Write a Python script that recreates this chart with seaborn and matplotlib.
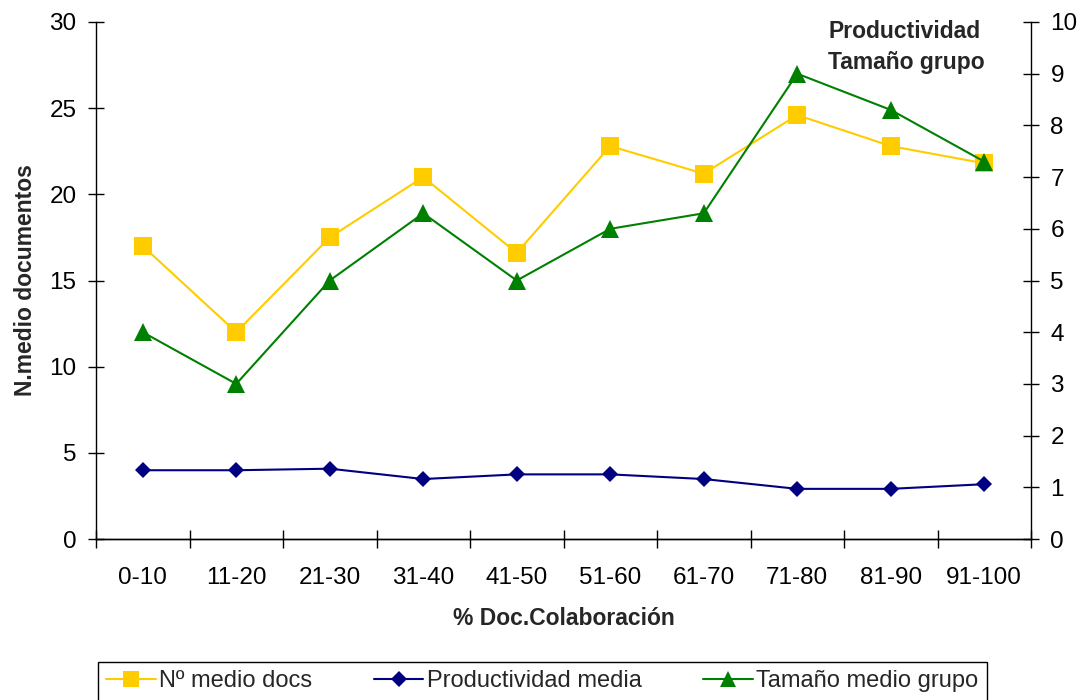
import numpy as np
import pandas as pd
import matplotlib
matplotlib.use("Agg")
import matplotlib.pyplot as plt
import seaborn as sns

# Collaboration share bins
categories = ["0-10", "11-20", "21-30", "31-40", "41-50",
              "51-60", "61-70", "71-80", "81-90", "91-100"]
# Left axis: average number of documents
n_medio_docs = [17.0, 12.0, 17.5, 21.0, 16.6, 22.8, 21.2, 24.6, 22.8, 21.8]
# Right axis: average productivity and average group size
productividad_media = [1.33, 1.33, 1.36, 1.16, 1.25, 1.25, 1.16, 0.97, 0.97, 1.06]
tamano_medio_grupo = [4.0, 3.0, 5.0, 6.3, 5.0, 6.0, 6.3, 9.0, 8.3, 7.3]

left_ticks = [0, 5, 10, 15, 20, 25, 30]
right_ticks = list(range(0, 11))

sns.set_theme(style="white")
plt.rcParams["font.family"] = ["Liberation Sans", "DejaVu Sans"]

df = pd.DataFrame({
    "pos": np.arange(len(categories)),
    "docs": n_medio_docs,
    "prod": productividad_media,
    "grupo": tamano_medio_grupo,
})

W, H = 1079, 700
fig = plt.figure(figsize=(W / 100, H / 100), dpi=100)
ax = fig.add_axes([96 / W, 1 - 539 / H, (1031 - 96) / W, (539 - 22) / H])
ax2 = ax.twinx()

yellow, navy, green = "#FFCC00", "#000080", "#008000"

sns.lineplot(data=df, x="pos", y="docs", ax=ax, color=yellow, marker="s",
             markersize=13, markeredgewidth=0, linewidth=1.5,
             label="Nº medio docs", legend=False)
sns.lineplot(data=df, x="pos", y="prod", ax=ax2, color=navy, marker="D",
             markersize=8.5, markeredgewidth=0, linewidth=1.5,
             label="Productividad media", legend=False)
sns.lineplot(data=df, x="pos", y="grupo", ax=ax2, color=green, marker="^",
             markersize=13, markeredgewidth=0, linewidth=1.5,
             label="Tamaño medio grupo", legend=False)

ax.set_xlim(-0.5, len(categories) - 0.5)
ax.set_ylim(0, 30)
ax2.set_ylim(0, 10)
ax.set_yticks(left_ticks)
ax2.set_yticks(right_ticks)

# category labels centred, tick marks on bin boundaries
ax.set_xticks(np.arange(len(categories)))
ax.set_xticklabels(categories)
ax.set_xticks(np.arange(len(categories) + 1) - 0.5, minor=True)
ax.tick_params(axis="x", which="major", length=0, pad=20, labelsize=17.5,
               colors="black")
ax.tick_params(axis="x", which="minor", direction="inout", length=13,
               width=1, color="black", bottom=True)
ax.tick_params(axis="y", direction="inout", length=12, width=1, pad=8,
               labelsize=17.5, colors="black", left=True)
ax2.tick_params(axis="y", direction="inout", length=12, width=1, pad=8,
                labelsize=17.5, colors="black", right=True)

for a in (ax, ax2):
    a.spines["top"].set_visible(False)
    for s in a.spines.values():
        s.set_color("black")
        s.set_linewidth(1.0)
    a.grid(False)
ax.spines["right"].set_visible(False)
ax2.spines["left"].set_visible(False)
ax2.set_ylabel("")

ax.set_xlabel("% Doc.Colaboración", fontsize=16.5, fontweight="bold",
              labelpad=13)
ax.set_ylabel("N.medio documentos", fontsize=16.5, fontweight="bold",
              labelpad=9)

fig.text(828 / W, 1 - 38.5 / H, "Productividad", fontsize=16.5,
         fontweight="bold", ha="left", va="baseline")
fig.text(828 / W, 1 - 69 / H, "Tamaño grupo", fontsize=16.5,
         fontweight="bold", ha="left", va="baseline")

h1, l1 = ax.get_legend_handles_labels()
h2, l2 = ax2.get_legend_handles_labels()
leg = fig.legend(h1 + h2, l1 + l2, loc="upper left",
                 bbox_to_anchor=(98 / W, 1 - 662 / H), ncol=3,
                 frameon=True, fancybox=False, edgecolor="black",
                 framealpha=1, fontsize=17, handlelength=2.1,
                 handletextpad=0.15, columnspacing=2.6, borderpad=0.35,
                 borderaxespad=0, markerscale=0.9)
leg.get_frame().set_linewidth(1.0)

fig.savefig("out.png", dpi=100)
